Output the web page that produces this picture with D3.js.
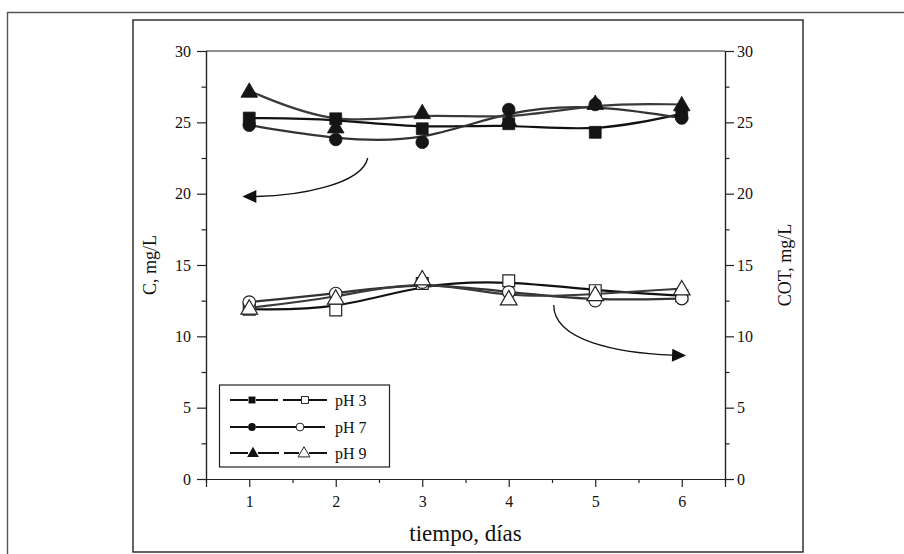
<!DOCTYPE html>
<html><head><meta charset="utf-8">
<script src="https://cdn.jsdelivr.net/npm/d3@7/dist/d3.min.js"></script>
<style>
html,body{margin:0;padding:0;background:#fff;}
svg text{font-family:"Liberation Serif","Times New Roman",serif;fill:#111;}
</style></head>
<body>
<svg id="chart" width="904" height="554"></svg>
<script>
// ---- data ----
const days = [1, 2, 3, 4, 5, 6];
const xTicks = [1, 2, 3, 4, 5, 6];
const yTicks = [0, 5, 10, 15, 20, 25, 30];
const seriesNames = ["pH 3", "pH 7", "pH 9"];
const cPH3 = [25.3, 25.25, 24.55, 24.9, 24.3, 25.6];
const cPH7 = [24.8, 23.8, 23.6, 25.9, 26.25, 25.3];
const cPH9 = [27.2, 24.7, 25.7, 25.15, 26.35, 26.25];
const cotPH3 = [11.9, 11.85, 13.7, 13.9, 13.2, 12.85];
const cotPH7 = [12.4, 13.0, 13.8, 13.1, 12.5, 12.65];
const cotPH9 = [12.0, 12.7, 14.05, 12.65, 12.95, 13.35];
// annotation arrows in data coordinates (start, ctrl1, ctrl2, end-of-shaft, tip)
const arrowLeft = [[2.37, 22.5], [2.30, 20.6], [1.55, 19.85], [1.08, 19.8], [0.92, 19.8]];
const arrowRight = [[4.52, 12.2], [4.52, 9.7], [5.25, 8.85], [5.90, 8.68], [6.05, 8.65]];

const svg = d3.select("#chart");
const L = 206, R = 725, T = 51, B = 479;
const x = d3.scaleLinear().domain([0.5, 6.5]).range([L, R]);
const y = d3.scaleLinear().domain([0, 30]).range([B, T]);
const y2 = d3.scaleLinear().domain([0, 30]).range([B, T]);

// frames
svg.append("path").attr("d", "M7.5,560 V12.5 H910").attr("fill", "none").attr("stroke", "#555").attr("stroke-width", 1.4);
svg.append("rect").attr("x", 133).attr("y", 20).attr("width", 670).attr("height", 532)
  .attr("fill", "none").attr("stroke", "#222").attr("stroke-width", 1.4);

// top line of plot
svg.append("line").attr("x1", L).attr("x2", R).attr("y1", T).attr("y2", T).attr("stroke", "#222").attr("stroke-width", 1.2);

function styleAxis(g, fs) {
  g.select(".domain").attr("stroke", "#222").attr("stroke-width", 1.2);
  g.selectAll(".tick line").attr("stroke", "#222").attr("stroke-width", 1.2);
  g.selectAll("text").style("font-family", '"Liberation Serif","Times New Roman",serif').style("font-size", fs + "px").attr("fill", "#111");
}
const minorY = d3.range(2.5, 30, 5);
const minorX = [1.5, 2.5, 3.5, 4.5, 5.5];

// left axis
const gl = svg.append("g").attr("transform", `translate(${L},0)`)
  .call(d3.axisLeft(y).tickValues(yTicks).tickSize(9).tickPadding(6).tickFormat(d3.format("d")));
styleAxis(gl, 16);
const glm = svg.append("g").attr("transform", `translate(${L},0)`)
  .call(d3.axisLeft(y).tickValues(minorY).tickSize(4.5).tickFormat(""));
styleAxis(glm, 16);

// right axis
const gr = svg.append("g").attr("transform", `translate(${R},0)`)
  .call(d3.axisRight(y2).tickValues(yTicks).tickSize(9).tickPadding(3).tickFormat(d3.format("d")));
styleAxis(gr, 16);
const grm = svg.append("g").attr("transform", `translate(${R},0)`)
  .call(d3.axisRight(y2).tickValues(minorY).tickSize(4.5).tickFormat(""));
styleAxis(grm, 16);

// bottom axis
const gb = svg.append("g").attr("transform", `translate(0,${B})`)
  .call(d3.axisBottom(x).tickValues(xTicks).tickSize(8).tickPadding(9).tickFormat(d3.format("d")));
styleAxis(gb, 16);
const gbm = svg.append("g").attr("transform", `translate(0,${B})`)
  .call(d3.axisBottom(x).tickValues(minorX).tickSize(4).tickFormat(""));
styleAxis(gbm, 16);

// axis titles
svg.append("text").attr("x", (L + R) / 2).attr("y", 541).attr("text-anchor", "middle")
  .style("font-size", "23px").text("tiempo, días");
svg.append("text").attr("transform", `translate(156,${(T + B) / 2}) rotate(-90)`).attr("text-anchor", "middle")
  .style("font-size", "18px").text("C, mg/L");
svg.append("text").attr("transform", `translate(791,${(T + B) / 2}) rotate(-90)`).attr("text-anchor", "middle")
  .style("font-size", "18px").text("COT, mg/L");

// lines
const line = (yy) => d3.line().x((d, i) => x(days[i])).y(d => yy(d)).curve(d3.curveBasis);
const lineStyles = [
  {stroke: "#111", w: 2.2},
  {stroke: "#333", w: 2.2},
  {stroke: "#3a3a3a", w: 2.2}
];
const topSeries = [cPH3, cPH7, cPH9];
const botSeries = [cotPH3, cotPH7, cotPH9];
topSeries.forEach((s, k) => svg.append("path").attr("d", line(y)(s)).attr("fill", "none")
  .attr("stroke", lineStyles[k].stroke).attr("stroke-width", lineStyles[k].w));
botSeries.forEach((s, k) => svg.append("path").attr("d", line(y2)(s)).attr("fill", "none")
  .attr("stroke", lineStyles[k].stroke).attr("stroke-width", lineStyles[k].w));

// markers
const shapes = [d3.symbolSquare, d3.symbolCircle, d3.symbolTriangle];
const sizes = [140, 125, 120];
function drawMarkers(series, yy, k, filled, scale) {
  const sym = d3.symbol().type(shapes[k]).size(sizes[k] * (scale || 1));
  svg.append("g").selectAll("path").data(series).join("path")
    .attr("d", sym)
    .attr("transform", (d, i) => `translate(${x(days[i])},${yy(d) + (k === 2 ? 1.5 : 0)})`)
    .attr("fill", filled ? "#151515" : "#fff")
    .attr("stroke", filled ? "#151515" : "#222")
    .attr("stroke-width", filled ? 0.8 : 1.2);
}
topSeries.forEach((s, k) => drawMarkers(s, y, k, true));
botSeries.forEach((s, k) => drawMarkers(s, y2, k, false));

// arrows
function drawArrow(a, yy) {
  const p = a.map(d => [x(d[0]), yy(d[1])]);
  svg.append("path").attr("d", `M${p[0][0]},${p[0][1]} C${p[1][0]},${p[1][1]} ${p[2][0]},${p[2][1]} ${p[3][0]},${p[3][1]}`)
    .attr("fill", "none").attr("stroke", "#111").attr("stroke-width", 1.3);
  const tip = p[4], base = p[3];
  const dx = tip[0] - base[0], dy = tip[1] - base[1];
  const len = Math.hypot(dx, dy), ux = dx / len, uy = dy / len;
  const hl = 14, hw = 6.5;
  const bx = tip[0] - ux * hl, by = tip[1] - uy * hl;
  svg.append("path").attr("d", `M${tip[0]},${tip[1]} L${bx - uy * hw},${by + ux * hw} L${bx + uy * hw},${by - ux * hw} Z`)
    .attr("fill", "#111");
}
drawArrow(arrowLeft, y);
drawArrow(arrowRight, y2);

// legend
const lg = svg.append("g");
lg.append("rect").attr("x", 219.5).attr("y", 385).attr("width", 170).attr("height", 82)
  .attr("fill", "#fff").attr("stroke", "#222").attr("stroke-width", 1.2);
const rowsY = [400, 427, 453];
const rowSegs = [
  [[230, 248], [256, 278], [283, 301], [309, 327]],
  [[230, 248], [256, 296], [304, 325]],
  [[230, 248], [258, 279], [284, 299], [309, 327]]
];
const m1x = [252, 252, 253], m2x = [305, 300, 304];
seriesNames.forEach((name, k) => {
  const yy = rowsY[k];
  rowSegs[k].forEach(s => lg.append("line").attr("x1", s[0]).attr("x2", s[1]).attr("y1", yy).attr("y2", yy)
    .attr("stroke", "#111").attr("stroke-width", 2));
  const sym = d3.symbol().type(shapes[k]).size(k === 2 ? 60 : 48);
  lg.append("path").attr("d", sym).attr("transform", `translate(${m1x[k]},${yy + (k === 2 ? 0.5 : 0)})`).attr("fill", "#111");
  lg.append("path").attr("d", sym).attr("transform", `translate(${m2x[k]},${yy + (k === 2 ? 0.5 : 0)})`)
    .attr("fill", "#fff").attr("stroke", "#222").attr("stroke-width", 1);
  lg.append("text").attr("x", 335).attr("y", yy + 5.5).style("font-size", "16px").text(name);
});
</script>
</body></html>
